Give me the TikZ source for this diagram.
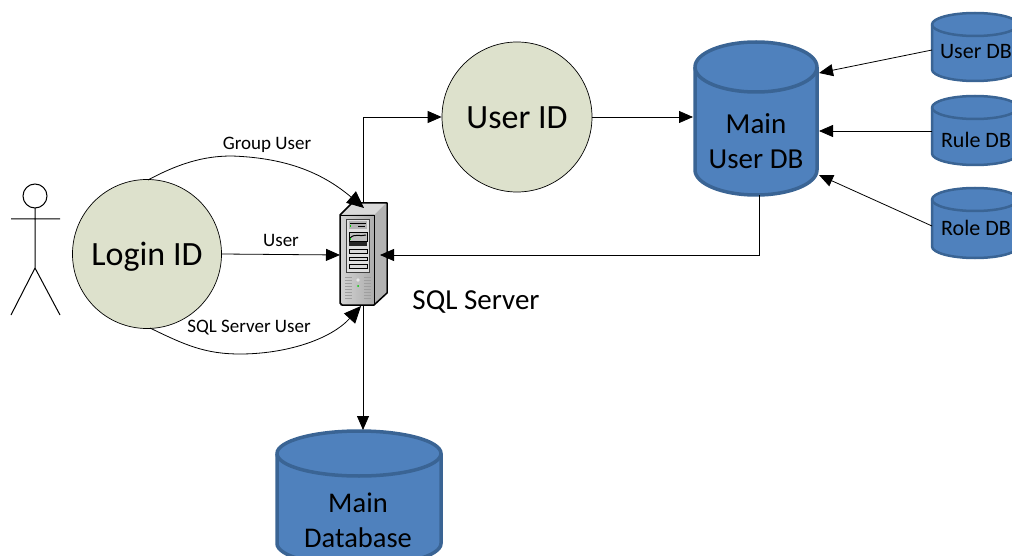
\documentclass[tikz,border=0pt]{standalone}
\usepackage{fontspec}
\setmainfont{Carlito}
\usetikzlibrary{arrows.meta,calc}
\definecolor{dbfill}{HTML}{4F81BD}
\definecolor{dbline}{HTML}{3A6494}
\definecolor{idfill}{HTML}{DDE1CC}
\tikzset{
  idcircle/.style={circle,draw=black,line width=0.7pt,fill=idfill,inner sep=0pt,text=black},
  conn/.style={draw=black,line width=0.8pt,-{Triangle[length=14pt,width=12pt]}},
  bigconn/.style={draw=black,line width=0.8pt,-{Triangle[length=17pt,width=15pt]}},
  edgelabel/.style={inner sep=1pt,font=\fontsize{19}{21}\selectfont},
  stick/.style={draw=black,line width=1pt},
}
% name, cx, top, bottom, rx, ry, line width
\newcommand{\dbcyl}[7]{%
  \fill[dbfill,draw=dbline,line width=#7pt]
    (#2-#5,#3+#6) arc[start angle=180,end angle=0,x radius=#5,y radius=-#6]
    -- (#2+#5,#4-#6) arc[start angle=0,end angle=-180,x radius=#5,y radius=-#6] -- cycle;
  \draw[dbline,line width=#7pt] (#2-#5,#3+#6) arc[start angle=180,end angle=360,x radius=#5,y radius=-#6];
  \coordinate (#1) at (#2,#3);
  \path (#2-#5,#3) coordinate (#1-nw) (#2+#5,#3) coordinate (#1-ne)
        (#2-#5,#4) coordinate (#1-sw) (#2,#4) coordinate (#1-s);
}
\begin{document}
\begin{tikzpicture}[x=1pt,y=-1pt]
\useasboundingbox (0,0) rectangle (1012,556);
\clip (0,0) rectangle (1012,556);
\fill[white] (0,0) rectangle (1012,556);

% actor
\draw[stick] (35,196) circle[radius=12];
\draw[stick] (35,208) -- (35,268) (11,219) -- (60,219) (11,315) -- (35,268) -- (60,315);

% circles
\node[idcircle,minimum size=149pt] (login) at (147,254) {};
\node[font=\fontsize{34}{36}\selectfont] (loginlbl) at (147,257) {Login ID};
\node[idcircle,minimum size=150pt] (userid) at (517,117) {};
\node[font=\fontsize{34}{36}\selectfont] (useridlbl) at (517,118) {User ID};

% cylinders
\dbcyl{maindb}{756}{42}{195}{61}{25}{3.5}
\dbcyl{userdb}{975}{13}{81}{43}{11.5}{2.5}
\dbcyl{ruledb}{975}{96}{165}{43}{11.5}{2.5}
\dbcyl{roledb}{975}{188}{258}{43}{11.5}{2.5}
\dbcyl{database}{359}{431}{566}{82}{22.5}{3.5}

\node[align=center,font=\fontsize{29}{35}\selectfont,text=black] (mainlbl) at (756,141) {Main\\User DB};
\node[font=\fontsize{22}{24}\selectfont] (userlbl) at (976,52) {User DB};
\node[font=\fontsize{22}{24}\selectfont] (rulelbl) at (976,140) {Rule DB};
\node[font=\fontsize{22}{24}\selectfont] (rolelbl) at (976,228) {Role DB};
\node[align=center,font=\fontsize{28.5}{35}\selectfont] (dblbl) at (358,520) {Main\\Database};

% server
\begin{scope}
  \coordinate (srv) at (363,255);
  \coordinate (srv-n) at (363,203);
  \coordinate (srv-s) at (363,306);
  \coordinate (srv-w) at (340,255);
  \coordinate (srv-e) at (380,255);
  \coordinate (srv-nw) at (364,208);
  \coordinate (srv-sw) at (361,306);
  \fill[gray!30] (340,215) -- (352,203) -- (386,203) -- (374,215) -- cycle;
  \fill[gray!60] (374,215) -- (386,203) -- (386,293) -- (374,305) -- cycle;
  \shade[left color=gray!35,right color=gray!65] (340,215) rectangle (374,305);
  \draw[black,line width=1.5pt,line join=round] (340,215) -- (352,203) -- (387,203) -- (387,293) -- (374,305) -- (342,305) -- (340,303) -- cycle;
  \draw[black,line width=0.8pt] (374,215) -- (374,305) (340,215) -- (374,215);
  \fill[black!75] (346,219) rectangle (370,273);
  \fill[gray!25] (347,220) rectangle (369,272);
  \fill[gray!60] (349,221) rectangle (367,229);
  \fill[black] (350,223) rectangle (366,224);
  \fill[black] (358,226) rectangle (365,227);
  \fill[gray!50,draw=black,line width=0.5pt] (349,232) rectangle (367,241);
  \draw[black,line width=1pt] (350,238) .. controls (355,233) and (360,237) .. (366,235);
  \fill[black!85] (349,242) rectangle (367,246);
  \foreach \yy in {249.5,257,264.5}{\draw[black,fill=gray!30,line width=0.7pt] (349,\yy) rectangle (367,\yy+3.5);}
  \fill[green!80!black] (349.5,225) rectangle (351,227);
  \fill[green!80!black] (349.5,238) rectangle (351,240);
  \foreach \yy in {277,280,283,286,289,292,295,298}{
    \draw[gray!75,line width=1pt] (345,\yy) -- (352,\yy) (364,\yy) -- (371,\yy);}
  \fill[gray!20] (358,280) circle[radius=1.8];
  \fill[green!80!black] (358,286) circle[radius=1];
\end{scope}

\node[font=\fontsize{29}{31}\selectfont] (srvlbl) at (476,302) {SQL Server};

% connectors
\draw[conn] (login.east) -- (srv-w);
\draw[bigconn] (148,180) .. controls (185,160) and (210,156) .. (232,156) .. controls (290,158) and (325,175) .. (srv-nw);
\draw[bigconn] (150,328) .. controls (185,345) and (205,354) .. (240,354) .. controls (285,354) and (330,340) .. (srv-sw);
\node[edgelabel,fill=white] (lblsql) at (249,328) {SQL Server User};
\node[edgelabel] (lblgroup) at (267,145) {Group User};
\node[edgelabel] (lbluser) at (281,240) {User};
\draw[conn] (srv-n) |- (userid.west);
\draw[conn] (userid.east) -- (693,117);
\draw[conn] (srv-s) -- (363,430);
\draw[conn] (maindb-s) ++(3,0) |- (srv-e);
\draw[conn] (userdb-nw) ++(0,37) -- (819,73);
\draw[conn] (ruledb-nw) ++(0,35) -- (819,131);
\draw[conn] (roledb-nw) ++(0,38) -- (819,175);
\end{tikzpicture}
\end{document}
